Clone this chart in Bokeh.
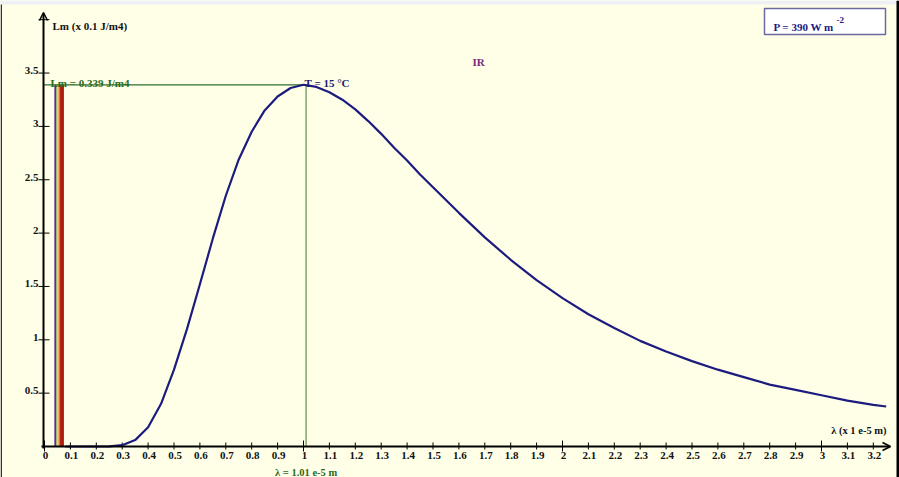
from bokeh.plotting import figure
from bokeh.models import Range1d, Label, Arrow, OpenHead
from bokeh.core.properties import value
from bokeh.embed import file_html
from bokeh.resources import INLINE

# ---------------- data ----------------
lam = [0.08, 0.1, 0.15, 0.2, 0.25, 0.3, 0.35, 0.4, 0.45, 0.5, 0.55, 0.6, 0.65,
       0.7, 0.75, 0.8, 0.85, 0.9, 0.95, 1.0, 1.05, 1.1, 1.15, 1.2, 1.25, 1.3,
       1.35, 1.4, 1.45, 1.5, 1.6, 1.7, 1.8, 1.9, 2.0, 2.1, 2.2, 2.3, 2.4, 2.5,
       2.6, 2.7, 2.8, 2.9, 3.0, 3.1, 3.2, 3.25]
lm = [0.0, 0.0, 0.0, 0.0, 0.002, 0.012, 0.06, 0.18, 0.40, 0.72, 1.10, 1.52, 1.95,
      2.35, 2.69, 2.95, 3.15, 3.28, 3.36, 3.39, 3.37, 3.32, 3.25, 3.16, 3.05, 2.93,
      2.80, 2.68, 2.55, 2.43, 2.19, 1.96, 1.75, 1.56, 1.39, 1.24, 1.11, 0.99, 0.89, 0.80,
      0.72, 0.65, 0.58, 0.53, 0.48, 0.43, 0.39, 0.375]

peak_lambda = 1.01
peak_lm = 3.39

band_lo = [0.038, 0.046, 0.050, 0.054, 0.060]
band_hi = [0.046, 0.050, 0.054, 0.060, 0.075]
band_colors = ["#5b2ca0", "#8fbf3f", "#f0d040", "#e07a20", "#b01c10"]

x_tick_labels = ["0", "0.1", "0.2", "0.3", "0.4", "0.5", "0.6", "0.7", "0.8", "0.9",
                 "1", "1.1", "1.2", "1.3", "1.4", "1.5", "1.6", "1.7", "1.8", "1.9",
                 "2", "2.1", "2.2", "2.3", "2.4", "2.5", "2.6", "2.7", "2.8", "2.9",
                 "3", "3.1", "3.2"]
y_tick_labels = ["0.5", "1", "1.5", "2", "2.5", "3", "3.5"]
y_tick_top = 4.0

# ---------------- layout helpers (pixel -> data) ----------------
W, H = 899, 477
X0PX, XSCALE = 44.0, 259.0
Y0PX, YSCALE = 446.0, 106.7


def X(px):
    return (px - X0PX) / XSCALE


def Y(py):
    return (Y0PX - py) / YSCALE


FONT_NAME = "Liberation Serif"
FONT = value(FONT_NAME)
BG = "#FFFFE8"

p = figure(width=W, height=H, output_backend="svg", toolbar_location=None,
           x_range=Range1d(X(0), X(W)), y_range=Range1d(Y(H), Y(0)),
           x_axis_type=None, y_axis_type=None, min_border=0,
           background_fill_color=BG, border_fill_color=BG,
           outline_line_color=None)

# window decoration: top strip, left and right borders
p.quad(left=[X(0)], right=[X(W)], bottom=[Y(4)], top=[Y(0)],
       fill_color="#eef0f6", line_color=None)
p.quad(left=[X(0)], right=[X(1.5)], bottom=[Y(H)], top=[Y(4)],
       fill_color="#333333", line_color=None)
p.quad(left=[X(896)], right=[X(W)], bottom=[Y(H)], top=[Y(0)],
       fill_color="#000000", line_color=None)

# visible spectrum bands
p.quad(left=band_lo, right=band_hi, bottom=0, top=peak_lm,
       fill_color=band_colors, line_color=None)

# peak guide lines
p.segment(x0=[X(43)], y0=[peak_lm], x1=[peak_lambda], y1=[peak_lm],
          line_color="#2f6f2f", line_width=1.2)
p.segment(x0=[peak_lambda], y0=[0], x1=[peak_lambda], y1=[peak_lm],
          line_color="#7aa66a", line_width=1.5)

# axes
p.add_layout(Arrow(end=OpenHead(size=8, line_width=1.5, line_color="black"),
                   x_start=X(43), y_start=Y(448), x_end=X(43), y_end=Y(12),
                   line_width=2, line_color="black"))
p.add_layout(Arrow(end=OpenHead(size=8, line_width=1.5, line_color="black"),
                   x_start=X(41), y_start=0, x_end=X(890), y_end=0,
                   line_width=2, line_color="black"))

# x ticks
xt = [float(s) for s in x_tick_labels]
major = [v for v in xt if abs(v - round(v)) < 1e-9]
minor = [v for v in xt if abs(v - round(v)) >= 1e-9]
p.segment(x0=minor, y0=Y(449), x1=minor, y1=Y(442), line_color="black", line_width=1)
p.segment(x0=major, y0=Y(451), x1=major, y1=Y(440), line_color="black", line_width=1)
p.text(x=xt, y=Y(451), text=x_tick_labels, text_font=FONT, text_font_style="bold",
       text_font_size="11px", text_align="center", text_baseline="top",
       text_color="#111111", x_offset=1)

# y ticks
yt = [float(s) for s in y_tick_labels]
p.segment(x0=X(38), y0=yt + [y_tick_top], x1=X(49), y1=yt + [y_tick_top],
          line_color="black", line_width=1)
p.text(x=X(38), y=yt, text=y_tick_labels, text_font=FONT, text_font_style="bold",
       text_font_size="11px", text_align="right", text_baseline="bottom",
       text_color="#111111", y_offset=1)

# curve
p.line(lam, lm, line_color="#1c1c80", line_width=2.2)

# labels
def lab(x, y, text, color, size="11px", align="left", baseline="alphabetic"):
    p.add_layout(Label(x=x, y=y, text=text, text_font=FONT_NAME, text_font_style="bold",
                       text_font_size=size, text_color=color, text_align=align,
                       text_baseline=baseline))

lab(X(52), Y(25), "Lm (x 0.1 J/m4)", "#111111")
lab(X(50), Y(82), "Lm = 0.339 J/m4", "#2a6a1e")
lab(X(304), Y(82), "T = 15 \u00b0C", "#1a1a6e")
lab(X(472), Y(61), "IR", "#7a2a7a")
lab(X(886), Y(430), "\u03bb (x 1 e-5 m)", "#111111", size="10.5px", align="right")
lab(peak_lambda, Y(466), "\u03bb = 1.01 e-5 m", "#2a6a1e", size="10.5px", align="center",
    baseline="top")

# P box
p.quad(left=[X(764)], right=[X(885)], bottom=[Y(34)], top=[Y(8)],
       fill_color="white", line_color="#6a6aa0", line_width=1.5)
lab(X(773), Y(26), "P = 390 W m", "#1a1a80")
lab(X(836), Y(19), "-2", "#1a1a80", size="9px")

open("out.html", "w").write(file_html(p, INLINE))
